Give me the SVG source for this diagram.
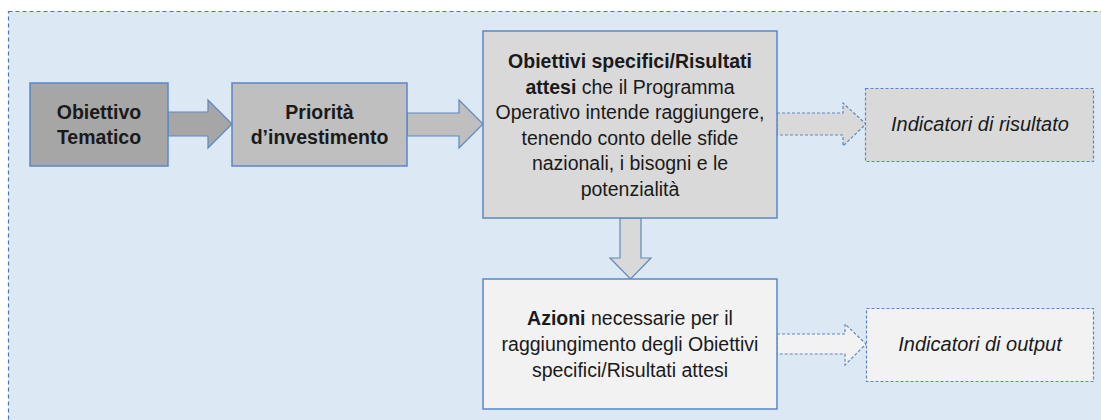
<svg xmlns="http://www.w3.org/2000/svg" width="1101" height="420" viewBox="0 0 1101 420">
<style>
.box{stroke:#5a86c8;stroke-width:1.5}
.dbox{stroke:#5a86c8;stroke-width:1.2;stroke-dasharray:3 2}
.arr{stroke:#5f88c0;stroke-width:1.2;stroke-linejoin:miter}
.darr{stroke:#5f88c0;stroke-width:1.2;stroke-dasharray:3 2}
text{font-family:"Liberation Sans",Arial,sans-serif;font-size:19.5px;fill:#1a1a1a;text-anchor:middle}
.b{font-weight:bold}
.i{font-style:italic;font-size:20px}
</style>
<rect x="8.5" y="11.5" width="1100" height="420" fill="#dde8f5" stroke="#4a78b3" stroke-width="1.2" stroke-dasharray="4 3"/>
<g id="connectors">
<polygon class="arr" fill="#a6a6a6" points="168,112 208,112 208,100 232,124 208,148 208,136 168,136"/>
<polygon class="arr" fill="#bfbfbf" points="407,113 459,113 459,100 483,124 459,148 459,136 407,136"/>
<polygon class="darr" fill="#d9d9d9" points="777,113 843,113 843,103 866,124 843,146 843,135 777,135"/>
<polygon class="arr" fill="#d9d9d9" points="620,218 641,218 641,258 651,258 630.5,279 610,258 620,258"/>
<polygon class="darr" fill="#f2f2f2" points="777,334 845,334 845,324 866,344 845,365 845,354 777,354"/>
</g>
<g id="obiettivo-tematico">
<rect class="box" x="30" y="83" width="138" height="83" fill="#a6a6a6"/>
<text class="b" x="99" y="119">Obiettivo</text>
<text class="b" x="99" y="144">Tematico</text>
</g>
<g id="priorita-investimento">
<rect class="box" x="232" y="83" width="175" height="83" fill="#bfbfbf"/>
<text class="b" x="319.5" y="119">Priorità</text>
<text class="b" x="319.5" y="144">d’investimento</text>
</g>
<g id="obiettivi-specifici">
<rect class="box" x="483" y="31" width="294" height="187" fill="#d9d9d9"/>
<text class="b" x="630" y="68">Obiettivi specifici/Risultati</text>
<text x="630" y="93.5"><tspan class="b">attesi</tspan> che il Programma</text>
<text x="630" y="119">Operativo intende raggiungere,</text>
<text x="630" y="144.5">tenendo conto delle sfide</text>
<text x="630" y="170">nazionali, i bisogni e le</text>
<text x="630" y="195.5">potenzialità</text>
</g>
<g id="indicatori-risultato">
<rect class="dbox" x="865.5" y="88.5" width="228" height="73" fill="#d9d9d9"/>
<text class="i" x="980" y="131">Indicatori di risultato</text>
</g>
<g id="azioni">
<rect class="box" x="483" y="279" width="294" height="130" fill="#f2f2f2"/>
<text x="630" y="325"><tspan class="b">Azioni</tspan> necessarie per il</text>
<text x="630" y="351">raggiungimento degli Obiettivi</text>
<text x="630" y="377">specifici/Risultati attesi</text>
</g>
<g id="indicatori-output">
<rect class="dbox" x="866.5" y="308.5" width="227" height="73" fill="#f2f2f2"/>
<text class="i" x="980" y="351">Indicatori di output</text>
</g>
</svg>
